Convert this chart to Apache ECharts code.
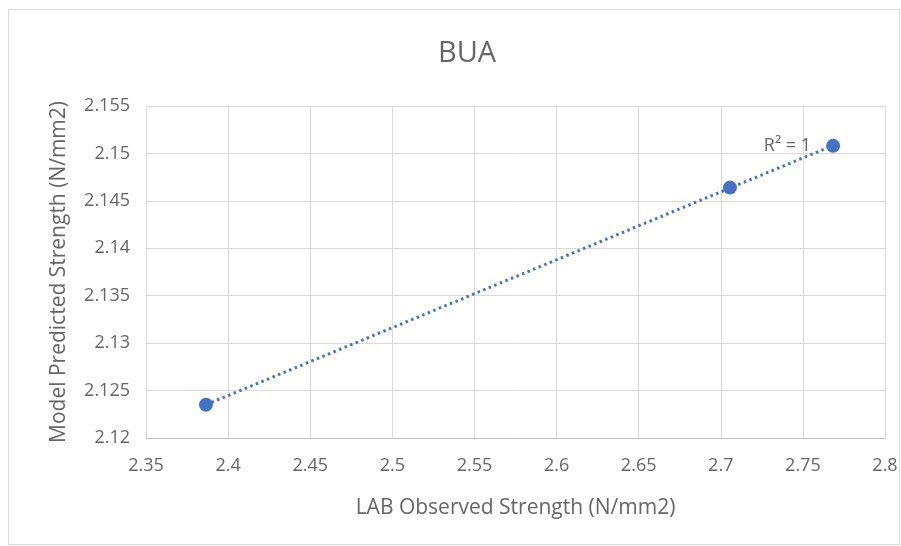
<!DOCTYPE html>
<html>
<head>
<meta charset="utf-8">
<script src="https://cdn.jsdelivr.net/npm/echarts@6/dist/echarts.min.js"></script>
<style>html,body{margin:0;padding:0;background:#fff;}#c{width:901px;height:546px;}</style>
</head>
<body>
<div id="c"></div>
<script>
const titleText = 'BUA';
const xName = 'LAB Observed Strength (N/mm2)';
const yName = 'Model Predicted Strength (N/mm2)';
const observed = [2.3865, 2.7056, 2.7684];
const predicted = [2.1235, 2.1464, 2.1508];
const xMin = 2.35, xMax = 2.8, xStep = 0.05;
const yMin = 2.12, yMax = 2.155, yStep = 0.005;
const r2Label = 'R² = 1';

// linear regression from data
const n = observed.length;
const mx = observed.reduce((a,b)=>a+b,0)/n;
const my = predicted.reduce((a,b)=>a+b,0)/n;
let sxy=0,sxx=0;
for(let i=0;i<n;i++){sxy+=(observed[i]-mx)*(predicted[i]-my);sxx+=(observed[i]-mx)**2;}
const slope = sxy/sxx, icpt = my - slope*mx;
const x0 = Math.min(...observed), x1 = Math.max(...observed);
const trend = [[x0, icpt+slope*x0],[x1, icpt+slope*x1]];

const font = '"Open Sans", "Noto Sans", sans-serif';
const grey = '#666666';
const chart = echarts.init(document.getElementById('c'));
chart.setOption({
  animation:false,
  backgroundColor:'#fff',
  graphic:[{type:'rect',shape:{x:8.5,y:9.5,width:891,height:535},style:{fill:'none',stroke:'#d9d9d9',lineWidth:1},silent:true,z:-1}],
  title:{text:titleText,left:462,top:34,textAlign:'center',textStyle:{fontFamily:font,fontSize:29,fontWeight:'normal',color:grey}},
  grid:{left:146,right:16,top:106,bottom:108,containLabel:false},
  xAxis:{type:'value',min:xMin,max:xMax,interval:xStep,
    name:xName,nameLocation:'middle',nameGap:60,
    nameTextStyle:{fontFamily:font,fontSize:21,color:grey},
    axisLine:{show:true,lineStyle:{color:'#bfbfbf'}},axisTick:{show:false},
    axisLabel:{fontFamily:font,fontSize:18,color:grey,margin:19,formatter:v=>String(+v.toFixed(2))},
    splitLine:{show:true,lineStyle:{color:'#d9d9d9'}}},
  yAxis:{type:'value',min:yMin,max:yMax,interval:yStep,
    name:yName,nameLocation:'middle',nameGap:76,nameRotate:90,
    nameTextStyle:{fontFamily:font,fontSize:21,color:grey},
    axisLine:{show:false},axisTick:{show:false},
    axisLabel:{fontFamily:font,fontSize:18,color:grey,margin:16,formatter:v=>String(+v.toFixed(3))},
    splitLine:{show:true,lineStyle:{color:'#d9d9d9'}}},
  series:[
    {type:'line',data:trend,showSymbol:false,symbol:'none',
      lineStyle:{color:'#4472C4',width:3,type:[2.5,3.5]},z:2,
      endLabel:{show:true,formatter:r2Label,position:'left',distance:0,offset:[-22,0],
        fontFamily:font,fontSize:18,color:grey,align:'right'}},
    {type:'scatter',data:observed.map((x,i)=>[x,predicted[i]]),symbol:'circle',symbolSize:14,
      itemStyle:{color:'#4472C4',opacity:1},z:3}
  ]
});
</script>
</body>
</html>
